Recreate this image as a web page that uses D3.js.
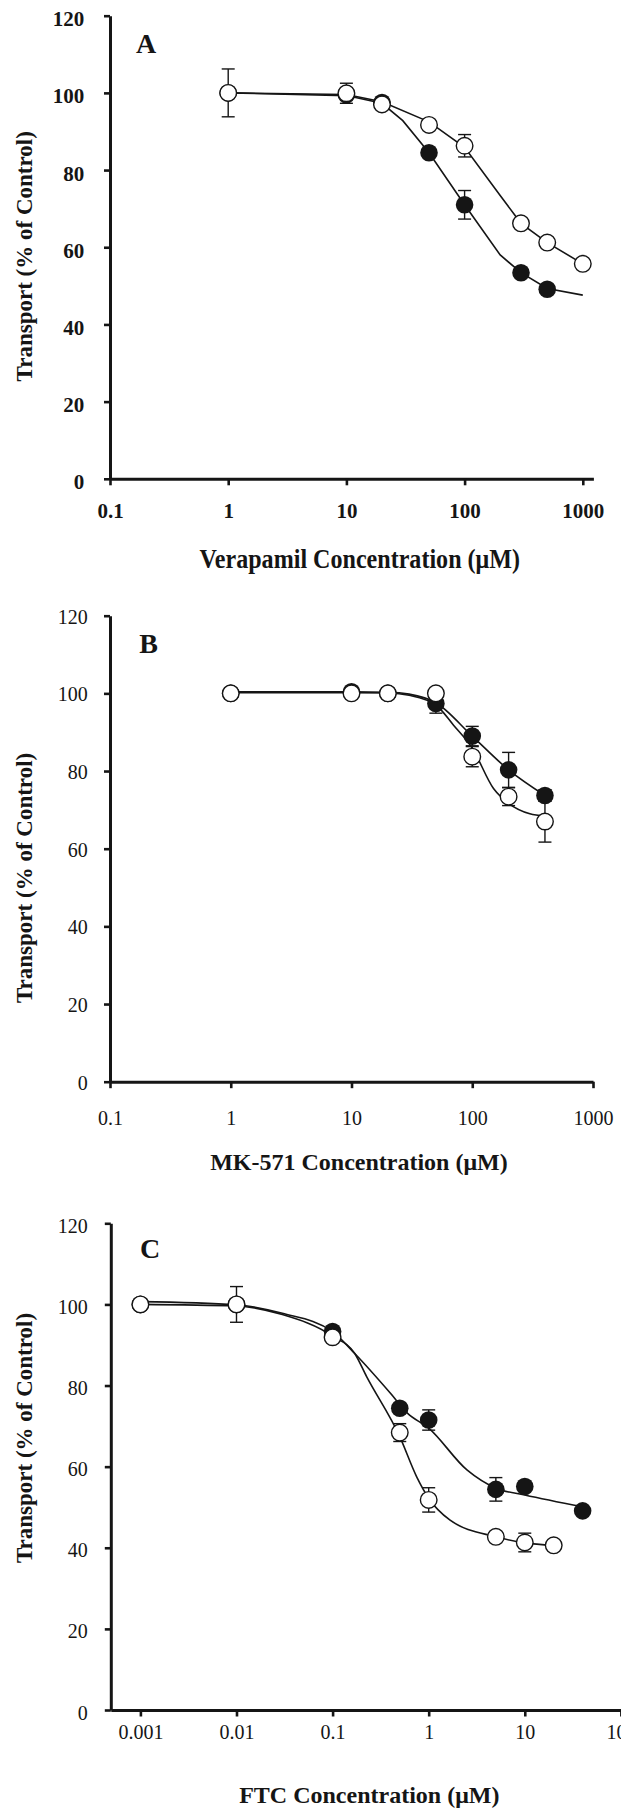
<!DOCTYPE html>
<html>
<head>
<meta charset="utf-8">
<script src="https://cdn.jsdelivr.net/npm/d3@7"></script>
<style>
  body { margin: 0; background: #fff; }
  svg { display: block; font-family: "Liberation Serif", "Times New Roman", serif; }
</style>
</head>
<body>
<div id="chart"></div>
<script>
// panel A - verapamil
const verapamilConc = [1, 10, 20, 50, 100, 300, 500, 1000];
const verapamilOpen = [100, 99.9, 97.0, 91.7, 86.3, 66.2, 61.2, 55.7];
const verapamilOpenErr = [6.2, 2.6, 0, 0, 2.9, 0, 0, 0];
const verapamilFilledConc = [1, 10, 20, 50, 100, 300, 500];
const verapamilFilled = [100, 99.5, 97.5, 84.5, 71.0, 53.4, 49.1];
const verapamilFilledErr = [0, 0, 0, 0, 3.7, 0, 0];
const verapamilOpenFitConc = [1, 10, 20, 50, 100, 200, 300, 500, 1000];
const verapamilOpenFit = [100, 99.6, 97.7, 92.5, 85.9, 73.4, 66.2, 61.2, 55.7];
const verapamilFilledFitConc = [1, 10, 20, 30, 50, 100, 200, 300, 500, 1000];
const verapamilFilledFit = [100, 99.3, 97.3, 92.8, 84.5, 71.0, 58.0, 53.4, 49.3, 47.6];

// panel B - MK-571
const mkConc = [1, 10, 20, 50, 100, 200, 400];
const mkOpen = [100, 100, 100, 100, 83.7, 73.4, 67.0];
const mkOpenErr = [0, 0, 0, 0, 2.6, 2.3, 5.3];
const mkFilled = [100, 100.4, 100, 97.4, 89.0, 80.3, 73.7];
const mkFilledErr = [0, 0, 0, 2.5, 2.5, 4.5, 1.5];
const mkOpenFitConc = [1, 10, 20, 30, 50, 70, 100, 150, 200, 300, 400];
const mkOpenFit = [100.2, 100.2, 100.1, 99.5, 97.0, 91.8, 85.9, 75.5, 71.7, 69.0, 68.4];
const mkFilledFitConc = [1, 10, 20, 30, 50, 100, 200, 400];
const mkFilledFit = [100.4, 100.4, 100.3, 99.8, 97.6, 89.0, 80.3, 73.7];

// panel C - FTC
const ftcOpenConc = [0.001, 0.01, 0.1, 0.5, 1, 5, 10, 20];
const ftcOpen = [100, 100, 91.9, 68.4, 51.8, 42.7, 41.3, 40.6];
const ftcOpenErr = [0, 4.4, 0, 2.2, 3.0, 0, 2.3, 0];
const ftcFilledConc = [0.001, 0.01, 0.1, 0.5, 1, 5, 10, 40];
const ftcFilled = [100, 100, 93.3, 74.4, 71.5, 54.4, 55.1, 49.1];
const ftcFilledErr = [0, 0, 0, 0, 2.5, 2.9, 0, 0];
const ftcOpenFitConc = [0.001, 0.01, 0.03, 0.1, 0.17, 0.226, 0.5, 0.75, 1, 1.67, 5, 10, 20];
const ftcOpenFit = [100, 99.6, 97.5, 92.2, 87.9, 82.2, 67.4, 57.5, 52.2, 46.8, 42.7, 41.2, 40.6];
const ftcFilledFitConc = [0.001, 0.01, 0.03, 0.1, 0.17, 0.4, 0.6, 1, 2.5, 5, 10, 40];
const ftcFilledFit = [100.7, 99.9, 97.8, 93.3, 87.9, 78.1, 73.2, 69.5, 59.2, 54.7, 53.0, 50.1];

const yTicks = [0, 20, 40, 60, 80, 100, 120];
const xTicksAB = [0.1, 1, 10, 100, 1000];
const xTickLabelsAB = ["0.1", "1", "10", "100", "1000"];
const xTicksC = [0.001, 0.01, 0.1, 1, 10, 100];
const xTickLabelsC = ["0.001", "0.01", "0.1", "1", "10", "100"];

const ink = "#151515";

const panels = [
  {
    letter: "A", letterPos: [136, 53.3],
    xDomain: [0.1, 1229.5], xRange: [110, 593.4], yRange: [478.8, 15.7],
    xTicks: xTicksAB, xLabels: xTickLabelsAB,
    tickFont: 21, tickWeight: "bold", yLabelRight: 25.7, yLabelDy: 10, xLabelY: 39.7,
    xTitle: "Verapamil Concentration (\u03bcM)", xTitlePos: [359.8, 568.3], xTitleSize: 28, xTitleScale: 0.86,
    yTitleY: 256.3,
    curve: d3.curveLinear,
    open: [verapamilConc, verapamilOpen, verapamilOpenErr],
    filled: [verapamilFilledConc, verapamilFilled, verapamilFilledErr],
    openFit: [verapamilOpenFitConc, verapamilOpenFit],
    filledFit: [verapamilFilledFitConc, verapamilFilledFit]
  },
  {
    letter: "B", letterPos: [139.3, 653.3],
    xDomain: [0.1, 1000], xRange: [110, 593], yRange: [1081.7, 615.7],
    xTicks: xTicksAB, xLabels: xTickLabelsAB,
    tickFont: 20, tickWeight: "normal", yLabelRight: 22.3, yLabelDy: 7.5, xLabelY: 43.3,
    xTitle: "MK-571 Concentration (\u03bcM)", xTitlePos: [358.9, 1170], xTitleSize: 24, xTitleScale: 1,
    yTitleY: 877.9,
    curve: d3.curveMonotoneX,
    open: [mkConc, mkOpen, mkOpenErr],
    filled: [mkConc, mkFilled, mkFilledErr],
    openFit: [mkOpenFitConc, mkOpenFit],
    filledFit: [mkFilledFitConc, mkFilledFit]
  },
  {
    letter: "C", letterPos: [140, 1258.3],
    xDomain: [Math.pow(10, -3.308), Math.pow(10, 2.2)], xRange: [110.8, 640.1], yRange: [1710, 1223.3],
    xTicks: xTicksC, xLabels: xTickLabelsC,
    tickFont: 20, tickWeight: "normal", yLabelRight: 23.1, yLabelDy: 9, xLabelY: 29.3,
    xTitle: "FTC Concentration (\u03bcM)", xTitlePos: [369.3, 1802.7], xTitleSize: 24, xTitleScale: 1,
    yTitleY: 1438,
    curve: d3.curveMonotoneX,
    open: [ftcOpenConc, ftcOpen, ftcOpenErr],
    filled: [ftcFilledConc, ftcFilled, ftcFilledErr],
    openFit: [ftcOpenFitConc, ftcOpenFit],
    filledFit: [ftcFilledFitConc, ftcFilledFit]
  }
];

const svg = d3.select("#chart")
  .append("svg")
  .attr("width", 621)
  .attr("height", 1810)
  .style("background", "#fff");

function zipPoints(xs, ys, errs) {
  return xs.map((x, i) => ({ x: x, y: ys[i], e: errs ? errs[i] : 0 }));
}

function drawPanel(p) {
  const x = d3.scaleLog().domain(p.xDomain).range(p.xRange);
  const y = d3.scaleLinear().domain([0, 120]).range(p.yRange);
  const g = svg.append("g");

  // axes
  const yAxis = g.append("g")
    .attr("transform", `translate(${p.xRange[0]},0)`)
    .call(d3.axisLeft(y).tickValues(yTicks).tickSize(6).tickSizeOuter(0));
  const xAxis = g.append("g")
    .attr("transform", `translate(0,${p.yRange[0]})`)
    .call(d3.axisBottom(x).tickValues(p.xTicks).tickFormat((d, i) => p.xLabels[i]).tickSize(6.5).tickSizeOuter(0));

  [yAxis, xAxis].forEach(ax => {
    ax.select(".domain").attr("stroke", ink).attr("stroke-width", 3);
    ax.selectAll(".tick line").attr("stroke", ink).attr("stroke-width", 2.6);
    ax.selectAll(".tick text")
      .attr("fill", ink)
      .attr("font-family", '"Liberation Serif", "Times New Roman", serif')
      .attr("font-size", p.tickFont)
      .attr("font-weight", p.tickWeight);
  });
  yAxis.selectAll(".tick text").attr("x", -p.yLabelRight).attr("dy", p.yLabelDy);
  xAxis.selectAll(".tick text").attr("y", p.xLabelY).attr("dy", 0);

  // fitted curves
  const line = d3.line().x(d => x(d.x)).y(d => y(d.y)).curve(p.curve);
  [p.openFit, p.filledFit].forEach(f => {
    g.append("path")
      .datum(zipPoints(f[0], f[1]))
      .attr("fill", "none")
      .attr("stroke", ink)
      .attr("stroke-width", 1.6)
      .attr("d", line);
  });

  // error bars
  [p.filled, p.open].forEach(s => {
    const pts = zipPoints(s[0], s[1], s[2]).filter(d => d.e > 0);
    const eb = g.append("g").attr("stroke", ink).attr("stroke-width", 1.4);
    eb.selectAll("line.v").data(pts).join("line")
      .attr("x1", d => x(d.x)).attr("x2", d => x(d.x))
      .attr("y1", d => y(d.y + d.e)).attr("y2", d => y(d.y - d.e));
    eb.selectAll("line.top").data(pts).join("line")
      .attr("x1", d => x(d.x) - 6.5).attr("x2", d => x(d.x) + 6.5)
      .attr("y1", d => y(d.y + d.e)).attr("y2", d => y(d.y + d.e));
    eb.selectAll("line.bot").data(pts).join("line")
      .attr("x1", d => x(d.x) - 6.5).attr("x2", d => x(d.x) + 6.5)
      .attr("y1", d => y(d.y - d.e)).attr("y2", d => y(d.y - d.e));
  });

  // points
  g.append("g").selectAll("circle")
    .data(zipPoints(p.filled[0], p.filled[1]))
    .join("circle")
    .attr("cx", d => x(d.x)).attr("cy", d => y(d.y))
    .attr("r", 8.8)
    .attr("fill", ink);
  g.append("g").selectAll("circle")
    .data(zipPoints(p.open[0], p.open[1]))
    .join("circle")
    .attr("cx", d => x(d.x)).attr("cy", d => y(d.y))
    .attr("r", 8.3)
    .attr("fill", "#fff")
    .attr("stroke", ink)
    .attr("stroke-width", 1.4);

  // panel letter and titles
  g.append("text")
    .attr("x", p.letterPos[0]).attr("y", p.letterPos[1])
    .attr("font-size", 28).attr("font-weight", "bold").attr("fill", ink)
    .text(p.letter);
  g.append("text")
    .attr("transform", `translate(${p.xTitlePos[0]},${p.xTitlePos[1]}) scale(${p.xTitleScale},1)`)
    .attr("text-anchor", "middle")
    .attr("font-size", p.xTitleSize).attr("font-weight", "bold").attr("fill", ink)
    .text(p.xTitle);
  g.append("text")
    .attr("transform", `translate(32,${p.yTitleY}) rotate(-90)`)
    .attr("text-anchor", "middle")
    .attr("font-size", 23).attr("font-weight", "bold").attr("fill", ink)
    .text("Transport (% of Control)");
}

panels.forEach(drawPanel);
</script>
</body>
</html>
